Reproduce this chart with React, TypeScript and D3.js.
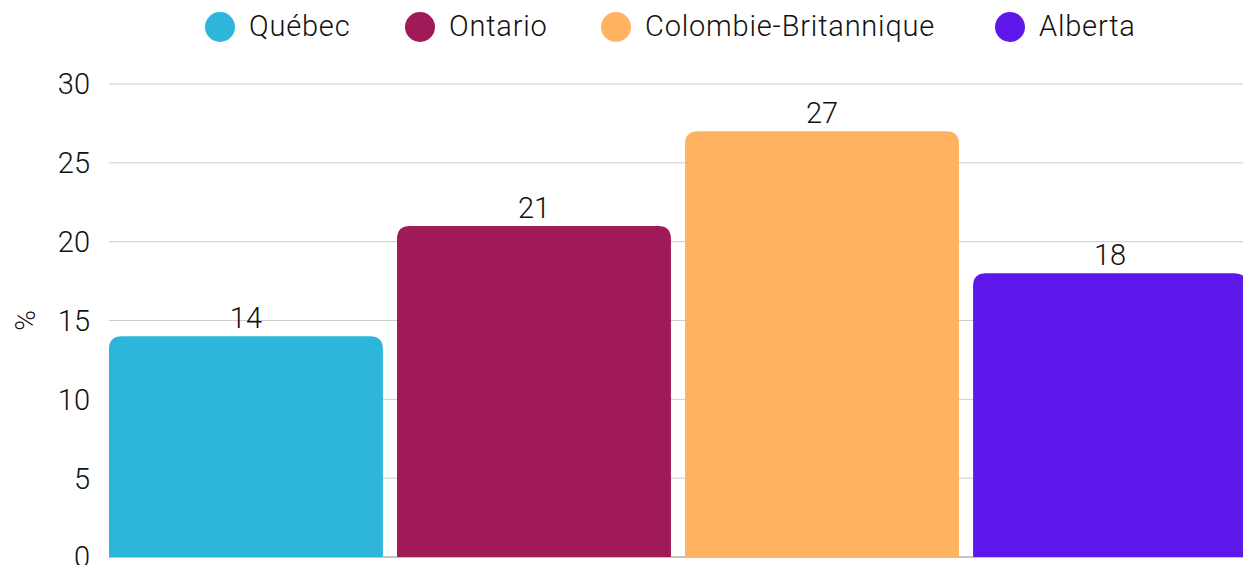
import React, { useEffect, useRef } from "react";
import * as d3 from "d3";

const provinces = ["Québec", "Ontario", "Colombie-Britannique", "Alberta"];
const values = [14, 21, 27, 18];
const colors = ["#2db6d9", "#a01a58", "#ffb25f", "#5e17eb"];
const yTicks = [0, 5, 10, 15, 20, 25, 30];

const App = () => {
  const ref = useRef<SVGSVGElement>(null);

  useEffect(() => {
    const width = 1243;
    const height = 565;
    const margin = { top: 84, right: -4, bottom: 8, left: 109 };
    const font = "Roboto, 'Noto Sans', sans-serif";
    const fs = 29;

    const svg = d3.select(ref.current);
    svg.selectAll("*").remove();

    // last bar runs slightly past the right edge, as in the original
    const x = d3
      .scaleBand()
      .domain(provinces)
      .range([margin.left, width - margin.right])
      .paddingInner(0.049)
      .paddingOuter(0);

    const y = d3
      .scaleLinear()
      .domain([0, 30])
      .range([height - margin.bottom, margin.top]);

    // gridlines
    svg
      .append("g")
      .selectAll("line")
      .data(yTicks)
      .enter()
      .append("line")
      .attr("x1", margin.left)
      .attr("x2", width)
      .attr("y1", (d) => y(d))
      .attr("y2", (d) => y(d))
      .attr("stroke", (d) => (d === 0 ? "#888" : "#cccccc"))
      .attr("stroke-width", 1);

    // y tick labels
    svg
      .append("g")
      .selectAll("text")
      .data(yTicks)
      .enter()
      .append("text")
      .attr("x", 90)
      .attr("y", (d) => y(d))
      .attr("dy", "0.36em")
      .attr("text-anchor", "end")
      .attr("font-family", font)
      .attr("font-weight", 300)
      .attr("font-size", fs)
      .attr("fill", "#111")
      .text((d) => d);

    // axis title
    svg
      .append("text")
      .attr("transform", `translate(25, ${y(15)}) rotate(-90)`)
      .attr("dy", "0.35em")
      .attr("text-anchor", "middle")
      .attr("font-family", font)
      .attr("font-weight", 300)
      .attr("font-size", 28)
      .attr("fill", "#111")
      .text("%");

    // bars with rounded top corners
    const r = 13;
    const barPath = (x0: number, w: number, top: number, bottom: number) => {
      const rr = Math.min(r, (bottom - top) / 2, w / 2);
      return `M${x0},${bottom}V${top + rr}Q${x0},${top} ${x0 + rr},${top}H${x0 + w - rr}Q${x0 + w},${top} ${x0 + w},${top + rr}V${bottom}Z`;
    };

    const data = provinces.map((p, i) => ({ p, v: values[i], c: colors[i] }));

    svg
      .append("g")
      .selectAll("path")
      .data(data)
      .enter()
      .append("path")
      .attr("d", (d) => barPath(x(d.p)!, x.bandwidth(), y(d.v), y(0)))
      .attr("fill", (d) => d.c);

    // value labels
    svg
      .append("g")
      .selectAll("text")
      .data(data)
      .enter()
      .append("text")
      .attr("x", (d) => x(d.p)! + x.bandwidth() / 2)
      .attr("y", (d) => y(d.v) - 8)
      .attr("text-anchor", "middle")
      .attr("font-family", font)
      .attr("font-weight", 300)
      .attr("font-size", fs)
      .attr("fill", "#111")
      .text((d) => d.v);

    // legend
    const legendX = [220, 420, 616, 1010];
    const legend = svg
      .append("g")
      .selectAll("g")
      .data(data)
      .enter()
      .append("g")
      .attr("transform", (d, i) => `translate(${legendX[i]}, 27)`);

    legend
      .append("circle")
      .attr("r", 15)
      .attr("fill", (d) => d.c);

    legend
      .append("text")
      .attr("x", 29)
      .attr("y", -1)
      .attr("dy", "0.36em")
      .attr("font-family", font)
      .attr("font-weight", 300)
      .attr("font-size", fs)
      .attr("letter-spacing", 0.8)
      .attr("fill", "#111")
      .text((d) => d.p);
  }, []);

  return (
    <div style={{ position: "fixed", top: 0, left: 0 }}>
      <svg ref={ref} width={1243} height={565} style={{ display: "block", background: "#fff" }} />
    </div>
  );
};

export default App;
